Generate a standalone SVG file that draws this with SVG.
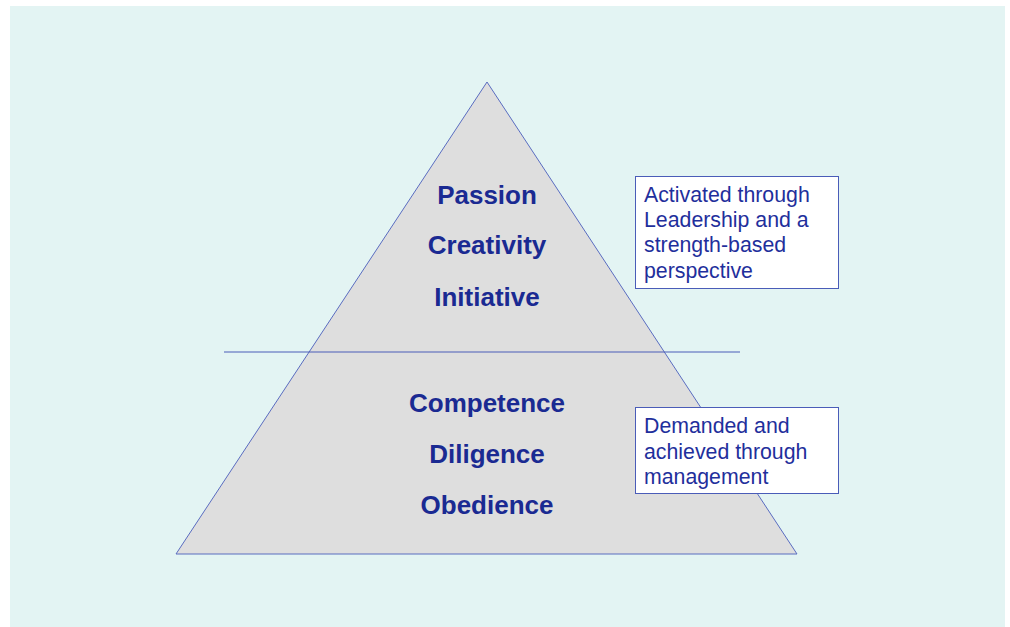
<svg xmlns="http://www.w3.org/2000/svg" width="1010" height="627" viewBox="0 0 1010 627">
<style>
.lvl{font-family:"Liberation Sans",Arial,sans-serif;font-weight:bold;font-size:26px;fill:#1a2a92;text-anchor:middle}
.note{font-family:"Liberation Sans",Arial,sans-serif;font-size:21.3px;fill:#1f2f9c}
.box{fill:#ffffff;stroke:#4a5cb8;stroke-width:1}
.edge{stroke:#4a5cb8;stroke-width:1;fill:none}
</style>
<rect x="0" y="0" width="1010" height="627" fill="#ffffff"/>
<rect x="10" y="6" width="995" height="621" fill="#e3f4f3"/>
<g id="pyramid">
<polygon points="487,82 176,554 797,554" fill="#dedede" stroke="#5a6cc0" stroke-width="1"/>
</g>
<g id="connectors">
<line class="edge" x1="224" y1="352" x2="740" y2="352"/>
</g>
<g id="upper">
<text class="lvl" x="487" y="204">Passion</text>
<text class="lvl" x="487" y="254">Creativity</text>
<text class="lvl" x="487" y="306">Initiative</text>
</g>
<g id="lower">
<text class="lvl" x="487" y="412">Competence</text>
<text class="lvl" x="487" y="463">Diligence</text>
<text class="lvl" x="487" y="514">Obedience</text>
</g>
<g id="note-leadership">
<rect class="box" x="635.5" y="176.5" width="203" height="112"/>
<text class="note" x="644" y="202">Activated through</text>
<text class="note" x="644" y="227">Leadership and a</text>
<text class="note" x="644" y="252">strength-based</text>
<text class="note" x="644" y="278">perspective</text>
</g>
<g id="note-management">
<rect class="box" x="635.5" y="407.5" width="203" height="86"/>
<text class="note" x="644" y="433">Demanded and</text>
<text class="note" x="644" y="459">achieved through</text>
<text class="note" x="644" y="484">management</text>
</g>
</svg>
